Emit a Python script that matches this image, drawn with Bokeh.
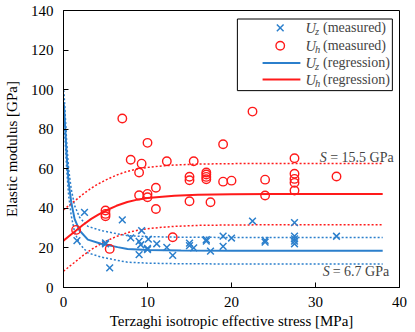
import numpy as np
from bokeh.plotting import figure
from bokeh.models import Label, FixedTicker, Range1d
from bokeh.embed import file_html
from bokeh.resources import INLINE

# ---- data ----
uz_x = [1.6, 2.5, 5.0, 5.0, 5.5, 7.0, 8.0, 9.3, 9.0, 9.2, 10.1, 9.0, 10.0, 10.0, 11.1,
        12.3, 13.0, 15.0, 15.0, 15.5, 17.0, 17.0, 17.5, 19.0, 19.0, 20.0, 22.5, 24.0,
        24.0, 27.5, 27.5, 27.5, 27.5, 27.5, 32.5]
uz_y = [23.7, 38.0, 22.6, 22.0, 9.9, 34.2, 25.1, 28.8, 23.3, 21.6, 24.4, 16.6, 19.8, 19.2, 22.1,
        20.3, 16.2, 22.4, 21.2, 20.0, 24.2, 23.4, 18.4, 26.0, 20.8, 25.0, 33.6, 23.8,
        22.9, 32.8, 26.0, 24.6, 23.4, 22.1, 25.9]

uh_x = [1.5, 5.0, 5.0, 5.0, 5.5, 7.0, 8.0, 9.0, 9.3, 9.0, 10.0, 10.0, 10.0, 11.0, 11.0,
        12.3, 13.0, 15.0, 15.0, 15.0, 15.5, 17.0, 17.0, 17.0, 17.0, 17.5, 19.0, 19.0,
        20.0, 22.5, 24.0, 24.0, 27.5, 27.5, 27.5, 27.5, 27.5, 32.5]
uh_y = [29.1, 38.9, 37.2, 36.0, 19.5, 85.4, 64.6, 58.1, 62.6, 46.6, 73.1, 47.3, 45.6, 50.4, 39.7,
        63.8, 25.4, 56.0, 54.2, 43.6, 63.8, 58.1, 57.1, 55.9, 54.7, 43.1, 72.4, 53.5,
        54.0, 88.9, 54.5, 46.5, 65.3, 57.5, 54.9, 52.9, 49.0, 56.1]

# regression curves
uz_fit_x = [0, 0.06, 0.21, 0.38, 0.61, 0.92, 1.32, 1.91, 2.9, 4.47, 6.44, 7.62, 10, 14, 20, 38]
uz_fit_y = [93.0, 91.9, 80.2, 66.7, 53.2, 43.1, 34.7, 28.8, 24.2, 22.1, 20.4, 19.5, 19.0, 18.7, 18.6, 18.6]
uh_fit_x = [0, 0.75, 1.5, 2.3, 3.3, 4.2, 5.06, 6.3, 7.6, 8.8, 10, 11.4, 13.2, 16, 20, 25, 38]
uh_fit_y = [23.7, 26.3, 28.8, 31.6, 34.7, 37.0, 38.9, 41.3, 43.2, 44.4, 45.2, 45.8, 46.4, 46.9, 47.1, 47.2, 47.2]

s_z = 6.7
s_h = 15.5

x_ticks = [0, 10, 20, 30, 40]
y_ticks = [0, 20, 40, 60, 80, 100, 120, 140]

BLUE = "#2b7fcc"
RED = "#ff1a1a"
FONT = "Liberation Serif"

p = figure(width=415, height=332, output_backend="svg", toolbar_location=None,
           x_range=Range1d(0, 40), y_range=Range1d(0, 140),
           min_border_left=62, min_border_right=16, min_border_top=10, min_border_bottom=45)
p.grid.visible = False
p.outline_line_color = "black"
p.outline_line_width = 1
p.background_fill_color = "white"

for ax in (p.xaxis[0], p.yaxis[0]):
    ax.major_tick_in = 5
    ax.major_tick_out = 0
    ax.minor_tick_line_color = None
    ax.axis_line_color = "black"
    ax.major_tick_line_color = "black"
    ax.major_label_text_font = FONT
    ax.major_label_text_font_size = "15px"
    ax.major_label_text_color = "black"
    ax.axis_label_text_font = FONT
    ax.axis_label_text_font_size = "15px"
    ax.axis_label_text_font_style = "normal"
    ax.axis_label_text_color = "black"

p.xaxis.ticker = FixedTicker(ticks=x_ticks)
p.yaxis.ticker = FixedTicker(ticks=y_ticks)
p.xaxis.axis_label = "Terzaghi isotropic effective stress [MPa]"
p.yaxis.axis_label = "Elastic modulus [GPa]"
p.xaxis.major_label_standoff = 9
p.xaxis.axis_label_standoff = 3
p.yaxis.major_label_standoff = 10
p.yaxis.axis_label_standoff = 8

# bands (regression +/- S)
uzf = np.array(uz_fit_y)
uhf = np.array(uh_fit_y)
p.line(uz_fit_x, uzf + s_z, line_color=BLUE, line_width=1.5, line_dash="2 2")
p.line(uz_fit_x, uzf - s_z, line_color=BLUE, line_width=1.5, line_dash="2 2")
p.line(uh_fit_x, uhf + s_h, line_color=RED, line_width=1.5, line_dash="2 2")
p.line(uh_fit_x, uhf - s_h, line_color=RED, line_width=1.5, line_dash="2 2")

# regression lines
p.line(uz_fit_x, uz_fit_y, line_color=BLUE, line_width=2)
p.line(uh_fit_x, uh_fit_y, line_color=RED, line_width=2)

# measured points
p.scatter(uz_x, uz_y, marker="x", size=9.5, line_color=BLUE, line_width=1.5)
p.scatter(uh_x, uh_y, marker="circle", size=8.5, line_color=RED, fill_color=None, line_width=1.4)

# ---- manual legend ----
p.quad(left=[20.7], right=[39.15], bottom=[99.5], top=[135.7],
       fill_color="white", line_color="black", line_width=1)
leg_y = [131.2, 122.2, 113.5, 105.1]
p.scatter([25.8], [leg_y[0]], marker="x", size=9.5, line_color=BLUE, line_width=1.5)
p.scatter([25.8], [leg_y[1]], marker="circle", size=8.5, line_color=RED, fill_color=None, line_width=1.4)
p.line([23.7, 28.2], [leg_y[2], leg_y[2]], line_color=BLUE, line_width=2)
p.line([23.7, 28.2], [leg_y[3], leg_y[3]], line_color=RED, line_width=2)

subs = ["z", "h", "z", "h"]
words = ["(measured)", "(measured)", "(regression)", "(regression)"]
for yy, sb, wd in zip(leg_y, subs, words):
    p.add_layout(Label(x=28.8, y=yy, text="U", text_font=FONT, text_font_style="italic",
                       text_font_size="14.5px", text_baseline="middle", text_align="left"))
    p.add_layout(Label(x=29.95, y=yy, y_offset=-4, text=sb, text_font=FONT, text_font_style="italic",
                       text_font_size="10.5px", text_baseline="middle", text_align="left"))
    p.add_layout(Label(x=30.9, y=yy, text=wd, text_font=FONT,
                       text_font_size="14px", text_baseline="middle", text_align="left"))

# S annotations
for sx, ex, yy, txt in [(30.5, 31.75, 65.7, "= 15.5  GPa"), (30.85, 32.05, 8.1, "= 6.7  GPa")]:
    p.add_layout(Label(x=sx, y=yy, text="S", text_font=FONT, text_font_style="italic",
                       text_font_size="14px", text_baseline="middle", text_align="left"))
    p.add_layout(Label(x=ex, y=yy, text=txt, text_font=FONT,
                       text_font_size="14px", text_baseline="middle", text_align="left"))

open("out.html", "w").write(file_html(p, INLINE))
